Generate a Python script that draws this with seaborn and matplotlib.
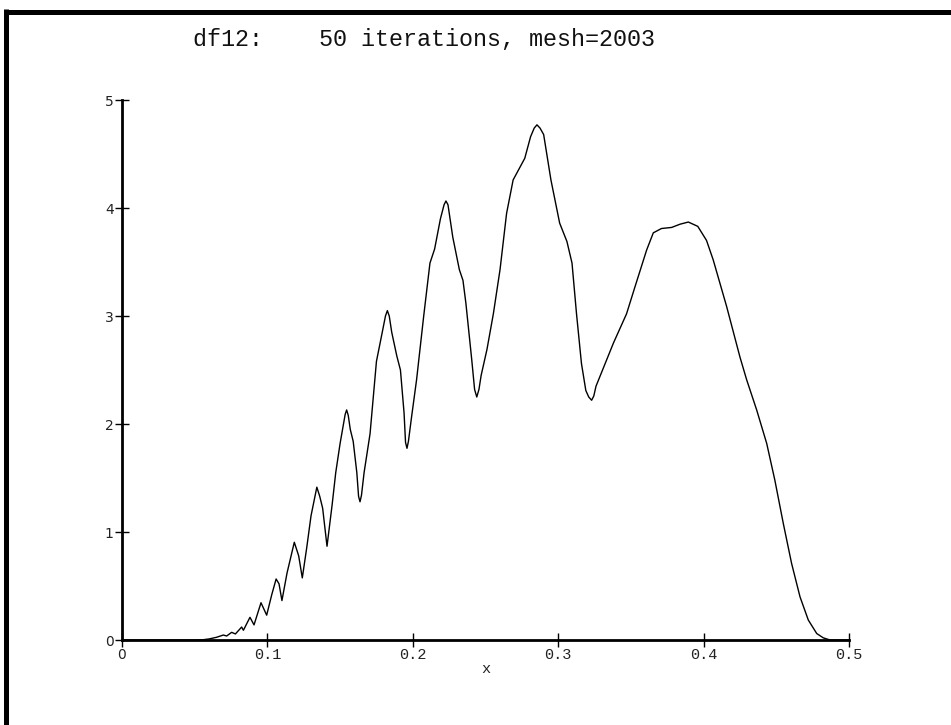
import matplotlib
matplotlib.use("Agg")
import matplotlib.pyplot as plt
import seaborn as sns
import numpy as np
import pandas as pd
from matplotlib.lines import Line2D

# ---- data ----
x_vals = [0.0, 0.05, 0.056, 0.060, 0.065, 0.0697, 0.072, 0.0754, 0.078, 0.0823,
          0.0835, 0.088, 0.0908, 0.0956, 0.0995, 0.103, 0.106, 0.108, 0.110, 0.1135,
          0.1185, 0.1215, 0.124, 0.127, 0.130, 0.134, 0.136, 0.138, 0.141, 0.1445,
          0.147, 0.150, 0.1535, 0.1545, 0.1556, 0.157, 0.159, 0.1615, 0.1627, 0.1637,
          0.1647, 0.1665, 0.1706, 0.175, 0.179, 0.1812, 0.1825, 0.1838, 0.1855, 0.189,
          0.1915, 0.194, 0.195, 0.196, 0.197, 0.199, 0.2026, 0.2075, 0.2118, 0.215,
          0.219, 0.2215, 0.2228, 0.2242, 0.2275, 0.232, 0.2345, 0.2365, 0.2405, 0.2425,
          0.244, 0.2455, 0.247, 0.251, 0.2554, 0.260, 0.2645, 0.269, 0.273, 0.277,
          0.281, 0.2835, 0.2854, 0.2875, 0.290, 0.295, 0.301, 0.306, 0.3095, 0.3126,
          0.316, 0.319, 0.321, 0.323, 0.3245, 0.326, 0.332, 0.338, 0.347, 0.3528,
          0.3608, 0.3654, 0.371, 0.378, 0.3838, 0.3895, 0.396, 0.402, 0.4066, 0.4158,
          0.425, 0.4296, 0.4365, 0.4434, 0.449, 0.4548, 0.4605, 0.4663, 0.472, 0.4778,
          0.4823, 0.487, 0.5]
y_vals = [0.0, 0.0, 0.003, 0.01, 0.025, 0.046, 0.037, 0.071, 0.056, 0.12,
          0.09, 0.21, 0.14, 0.345, 0.23, 0.42, 0.565, 0.52, 0.365, 0.62,
          0.905, 0.78, 0.575, 0.85, 1.15, 1.415, 1.33, 1.22, 0.868, 1.25,
          1.55, 1.82, 2.09, 2.13, 2.08, 1.95, 1.84, 1.55, 1.33, 1.28,
          1.34, 1.55, 1.91, 2.58, 2.85, 3.0, 3.05, 3.0, 2.85, 2.63,
          2.5, 2.1, 1.83, 1.775, 1.84, 2.05, 2.41, 3.0, 3.49, 3.62,
          3.9, 4.03, 4.065, 4.03, 3.73, 3.43, 3.33, 3.12, 2.6, 2.32,
          2.25, 2.32, 2.45, 2.69, 3.02, 3.43, 3.95, 4.26, 4.36, 4.46,
          4.66, 4.74, 4.77, 4.74, 4.68, 4.26, 3.86, 3.69, 3.49, 3.02,
          2.56, 2.31, 2.25, 2.22, 2.26, 2.35, 2.55, 2.75, 3.02, 3.27,
          3.61, 3.77, 3.81, 3.82, 3.85, 3.87, 3.83, 3.70, 3.52, 3.09,
          2.62, 2.41, 2.13, 1.82, 1.48, 1.08, 0.71, 0.40, 0.185, 0.06,
          0.02, 0.0, 0.0]
x_ticks = [0, 0.1, 0.2, 0.3, 0.4, 0.5]
x_ticklabels = ["0", "0.1", "0.2", "0.3", "0.4", "0.5"]
y_ticks = [0, 1, 2, 3, 4, 5]
y_ticklabels = ["0", "1", "2", "3", "4", "5"]
title_text = "df12:    50 iterations, mesh=2003"
x_label = "x"

sns.set_style("white")
plt.rcParams['font.family'] = ['DejaVu Sans']

W, H = 951, 725
fig = plt.figure(figsize=(W / 100, H / 100), dpi=100)
ax = fig.add_axes([122 / W, (H - 640) / H, (849 - 122) / W, (640 - 100) / H])

df = pd.DataFrame({"x": x_vals, "y": y_vals})
sns.lineplot(data=df, x="x", y="y", ax=ax, color="black", linewidth=1.0,
             sort=False, estimator=None)

ax.set_xlim(0, 0.5)
ax.set_ylim(0, 5)
for s in ["top", "right"]:
    ax.spines[s].set_visible(False)
for s in ["left", "bottom"]:
    ax.spines[s].set_linewidth(2.0)
    ax.spines[s].set_color("black")

ax.set_xticks(x_ticks)
ax.set_xticklabels(x_ticklabels)
ax.set_yticks(y_ticks)
ax.set_yticklabels(y_ticklabels)
ax.tick_params(axis="both", which="major", bottom=True, left=True,
               top=False, right=False, direction="inout", length=10,
               width=1.0, color="black", pad=1)
ax.tick_params(axis="y", labelsize=10, labelcolor="#222222")
ax.tick_params(axis="x", labelsize=11, labelcolor="#222222")
for i, lab in enumerate(ax.get_xticklabels()):
    if i == 0:
        lab.set_family("DejaVu Sans")
        lab.set_fontsize(10)
    else:
        lab.set_family("Liberation Mono")

ax.set_xlabel(x_label, family="Liberation Mono", fontsize=11, color="#222222")
ax.xaxis.set_label_coords(0.5, -0.040)
ax.set_ylabel("")
ax.grid(False)

fig.text(424 / W, 1 - 40 / H, title_text, family="Liberation Mono",
         fontsize=16.8, ha="center", va="center", color="#111111")

# thick frame at top and left of the figure
lw_pt = 5 * 72 / 100
fig.add_artist(Line2D([4 / W, 1.0], [1 - 11.5 / H, 1 - 11.5 / H],
                      transform=fig.transFigure, color="black", linewidth=lw_pt,
                      solid_capstyle="butt"))
fig.add_artist(Line2D([6 / W, 6 / W], [0.0, 1 - 9 / H],
                      transform=fig.transFigure, color="black", linewidth=lw_pt,
                      solid_capstyle="butt"))

fig.savefig("out.png", dpi=100)
